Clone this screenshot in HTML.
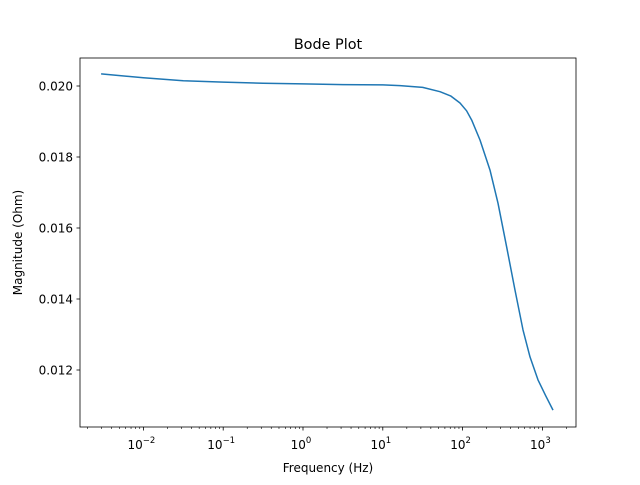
<!DOCTYPE html>
<html><head><meta charset="utf-8"><style>
body{margin:0;background:#fff}
svg text{font-family:"DejaVu Sans","Liberation Sans",sans-serif;fill:#000}
</style></head><body>
<svg id="chart" width="640" height="480" xmlns="http://www.w3.org/2000/svg">
<rect width="640" height="480" fill="#fff"/>
<g id="ticks"></g>
<path id="line" fill="none" stroke="#1f77b4" stroke-width="1.5" stroke-linejoin="round"/>
<rect x="80" y="58" width="496" height="369" fill="none" stroke="#000" stroke-width="0.8"/>
<text x="328" y="49" font-size="14.4" text-anchor="middle">Bode Plot</text>
<text x="328" y="472" font-size="12" text-anchor="middle">Frequency (Hz)</text>
<text transform="translate(22,242.5) rotate(-90)" font-size="12" text-anchor="middle">Magnitude (Ohm)</text>
</svg>
<script>
const logFreq=[-2.53,-2.0,-1.5,-1.0,-0.5,0,0.5,1.0,1.215,1.5,1.717,1.85,1.967,2.05,2.114,2.218,2.343,2.444,2.553,2.657,2.757,2.845,2.945,3.04,3.133];
const magnitude=[0.02034,0.02023,0.02015,0.02011,0.02008,0.02006,0.02004,0.02003,0.02001,0.01996,0.01984,0.01972,0.01952,0.01930,0.01904,0.01848,0.01763,0.01670,0.01546,0.01425,0.01313,0.01237,0.01172,0.01128,0.01087];
const yTicks=[0.012,0.014,0.016,0.018,0.020];
const yTickLabels=["0.012","0.014","0.016","0.018","0.020"];
const xDecades=[-2,-1,0,1,2,3];
const X=l=>303+(l)*79.8;
const Y=v=>86-(v-0.020)*35500;
const NS="http://www.w3.org/2000/svg";
const g=document.getElementById('ticks');
function mk(t,a){const e=document.createElementNS(NS,t);for(const k in a)e.setAttribute(k,a[k]);g.appendChild(e);return e;}
yTicks.forEach((v,i)=>{
 const l=mk('line',{x1:76.5,x2:80,y1:Y(v),y2:Y(v),stroke:'#000','stroke-width':0.8});
 
 
 const t=mk('text',{x:73,y:Y(v)+4.5,'font-size':12,'text-anchor':'end'});
 t.textContent=yTickLabels[i];
 
 
});
for(let d=-3;d<=3;d++){for(let m=2;m<=9;m++){const x=X(d+Math.log10(m));if(x<80||x>576)continue;
 const l=mk('line',{x1:x,x2:x,y1:427,y2:429,stroke:'#000','stroke-width':0.6});
 
 }}
xDecades.forEach(d=>{
 const x=X(d);
 const l=mk('line',{x1:x,x2:x,y1:427,y2:430.5,stroke:'#000','stroke-width':0.8});
 
 
 const t=mk('text',{x:x-2,y:449,'font-size':12,'text-anchor':'middle'});
 t.innerHTML='10<tspan dy="-6" font-size="8.5">'+(d<0?'\u2212'+(-d):d)+'</tspan>';
 
 
});
document.getElementById('line').setAttribute('d',logFreq.map((l,i)=>(i?'L':'M')+X(l).toFixed(1)+','+Y(magnitude[i]).toFixed(1)).join(''));
</script>
</body></html>
